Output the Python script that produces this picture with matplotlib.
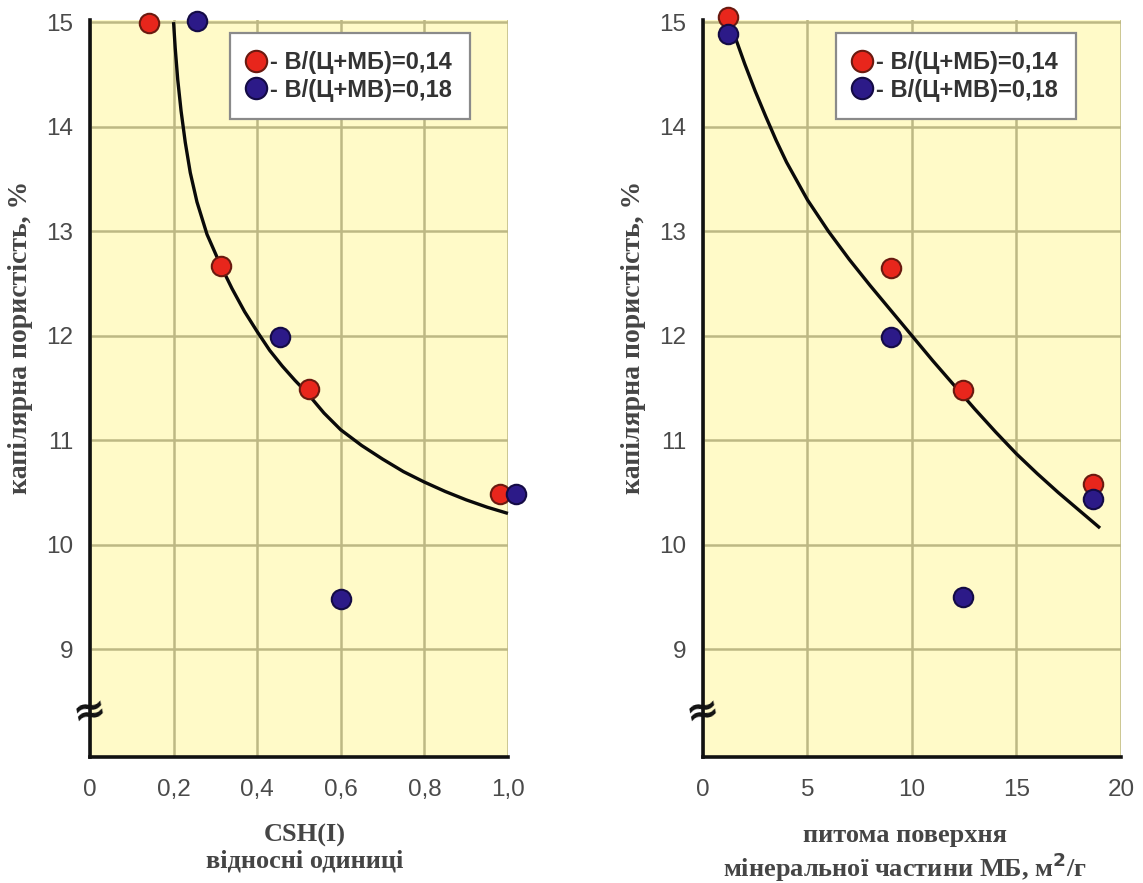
import matplotlib
matplotlib.use("Agg")
import matplotlib.pyplot as plt
from matplotlib.ticker import FixedLocator, FixedFormatter

# ---------------- data ----------------
# left panel: CSH(I), relative units
csh_red_x = [0.141, 0.313, 0.524, 0.981]
csh_red_y = [14.99, 12.67, 11.49, 10.49]
csh_blue_x = [0.256, 0.455, 0.600, 1.019]
csh_blue_y = [15.01, 11.99, 9.48, 10.49]
csh_curve_x = [0.200, 0.204, 0.210, 0.218, 0.228, 0.240, 0.256, 0.280, 0.313,
               0.340, 0.370, 0.400, 0.430, 0.460, 0.490, 0.520, 0.560, 0.600,
               0.650, 0.700, 0.750, 0.800, 0.850, 0.900, 0.950, 1.000]
csh_curve_y = [15.00, 14.75, 14.45, 14.15, 13.85, 13.56, 13.28, 12.97, 12.67,
               12.45, 12.23, 12.04, 11.86, 11.71, 11.575, 11.45, 11.26, 11.10,
               10.95, 10.82, 10.70, 10.60, 10.51, 10.43, 10.36, 10.30]

# right panel: specific surface of mineral particle MB, m2/g
ss_red_x = [1.2, 9.0, 12.44, 18.66]
ss_red_y = [15.05, 12.65, 11.48, 10.58]
ss_blue_x = [1.2, 9.0, 12.46, 18.66]
ss_blue_y = [14.89, 11.99, 9.50, 10.44]
ss_curve_x = [1.5, 2.0, 2.5, 3.0, 3.5, 4.0, 5.0, 6.0, 7.0, 8.0, 9.0, 10.0,
              11.0, 12.0, 13.0, 14.0, 15.0, 16.0, 17.0, 18.0, 19.0]
ss_curve_y = [14.88, 14.60, 14.34, 14.10, 13.87, 13.66, 13.30, 13.00, 12.73,
              12.48, 12.24, 12.00, 11.76, 11.53, 11.30, 11.08, 10.87, 10.68,
              10.50, 10.33, 10.16]

y_ticks = [9, 10, 11, 12, 13, 14, 15]
left_xticks = [0, 0.2, 0.4, 0.6, 0.8, 1.0]
left_xlabels = ["0", "0,2", "0,4", "0,6", "0,8", "1,0"]
right_xticks = [0, 5, 10, 15, 20]
right_xlabels = ["0", "5", "10", "15", "20"]

label_red = "- В/(Ц+МБ)=0,14"
label_blue = "- В/(Ц+МВ)=0,18"
ylabel = "капілярна пористість, %"
left_xlabel = "CSH(I)\nвідносні одиниці"
right_xlabel = "питома поверхня\nмінеральної частини МБ, м$^{\\mathbf{2}}$/г"

# ---------------- style ----------------
BG = "#FFFAC8"
GRID = "#BDB884"
RED = "#E8261C"
RED_EDGE = "#6A1A10"
BLUE = "#2C1A88"
BLUE_EDGE = "#140B45"
TICK_COLOR = "#4a4a4a"
LABEL_COLOR = "#454545"

fig = plt.figure(figsize=(11.43, 8.83), dpi=100)
ax1 = fig.add_axes([0.0787, 0.1427, 0.3657, 0.8346])
ax2 = fig.add_axes([0.6150, 0.1427, 0.3657, 0.8346])


def style_axes(ax, xlim, xticks, xlabels):
    ax.set_facecolor(BG)
    ax.set_xlim(*xlim)
    ax.set_ylim(7.97, 15.02)
    ax.xaxis.set_major_locator(FixedLocator(xticks))
    ax.xaxis.set_major_formatter(FixedFormatter(xlabels))
    ax.yaxis.set_major_locator(FixedLocator(y_ticks))
    ax.grid(True, color=GRID, linewidth=1.8, zorder=0)
    ax.set_axisbelow(True)
    for s in ("top", "right"):
        ax.spines[s].set_visible(False)
    for s in ("left", "bottom"):
        ax.spines[s].set_linewidth(2.6)
        ax.spines[s].set_color("#111111")
        ax.spines[s].set_zorder(5)
    ax.tick_params(axis="both", length=0, labelsize=17.5, colors=TICK_COLOR)
    ax.tick_params(axis="x", pad=16)
    ax.tick_params(axis="y", pad=12)
    for lab in ax.get_xticklabels() + ax.get_yticklabels():
        lab.set_fontfamily("Liberation Sans")
    # axis break sign
    ax.text(0.0, 8.4, "≈", transform=ax.get_yaxis_transform(), ha="center",
            va="center", fontsize=29, fontweight="bold", color="#111111",
            family="DejaVu Sans", zorder=6, rotation=12)


def draw(ax, cx, cy, rx, ry, bx, by, legend_anchor):
    ax.plot(cx, cy, color="#0a0a0a", linewidth=2.4, zorder=3,
            solid_capstyle="butt", solid_joinstyle="round", clip_on=False)
    hr, = ax.plot(rx, ry, linestyle="none", marker="o", markersize=14,
                  markerfacecolor=RED, markeredgecolor=RED_EDGE,
                  markeredgewidth=1.5, zorder=4, clip_on=False)
    hb, = ax.plot(bx, by, linestyle="none", marker="o", markersize=14,
                  markerfacecolor=BLUE, markeredgecolor=BLUE_EDGE,
                  markeredgewidth=1.5, zorder=4, clip_on=False)
    leg = ax.legend([hr, hb], [label_red, label_blue], loc="upper left",
                    bbox_to_anchor=legend_anchor, frameon=True, fancybox=False,
                    handlelength=0.7, handletextpad=0.25, borderpad=0.75,
                    labelspacing=0.2, borderaxespad=0.0, markerscale=1.1,
                    prop={"family": "Liberation Sans", "weight": "bold",
                          "size": 17})
    leg.get_frame().set_edgecolor("#8a8a8a")
    leg.get_frame().set_linewidth(1.6)
    leg.get_frame().set_facecolor("white")
    leg.get_frame().set_alpha(1)
    for t in leg.get_texts():
        t.set_color("#333333")
    leg.set_zorder(7)


style_axes(ax1, (0, 1.0), left_xticks, left_xlabels)
style_axes(ax2, (0, 20), right_xticks, right_xlabels)
draw(ax1, csh_curve_x, csh_curve_y, csh_red_x, csh_red_y, csh_blue_x,
     csh_blue_y, (0.335, 0.982))
draw(ax2, ss_curve_x, ss_curve_y, ss_red_x, ss_red_y, ss_blue_x, ss_blue_y,
     (0.318, 0.982))

for ax, xl, xpos in ((ax1, left_xlabel, 0.514), (ax2, right_xlabel, 0.483)):
    ax.text(xpos, -0.091, xl, transform=ax.transAxes, ha="center", va="top",
            fontsize=19, fontweight="bold", family="Liberation Serif",
            color=LABEL_COLOR, linespacing=1.12)
    ax.text(-0.167, 0.57, ylabel, transform=ax.transAxes, ha="center",
            va="center", rotation=90, fontsize=20, fontweight="bold",
            family="Liberation Serif", color=LABEL_COLOR)

fig.savefig("out.png", dpi=100, facecolor="white")
